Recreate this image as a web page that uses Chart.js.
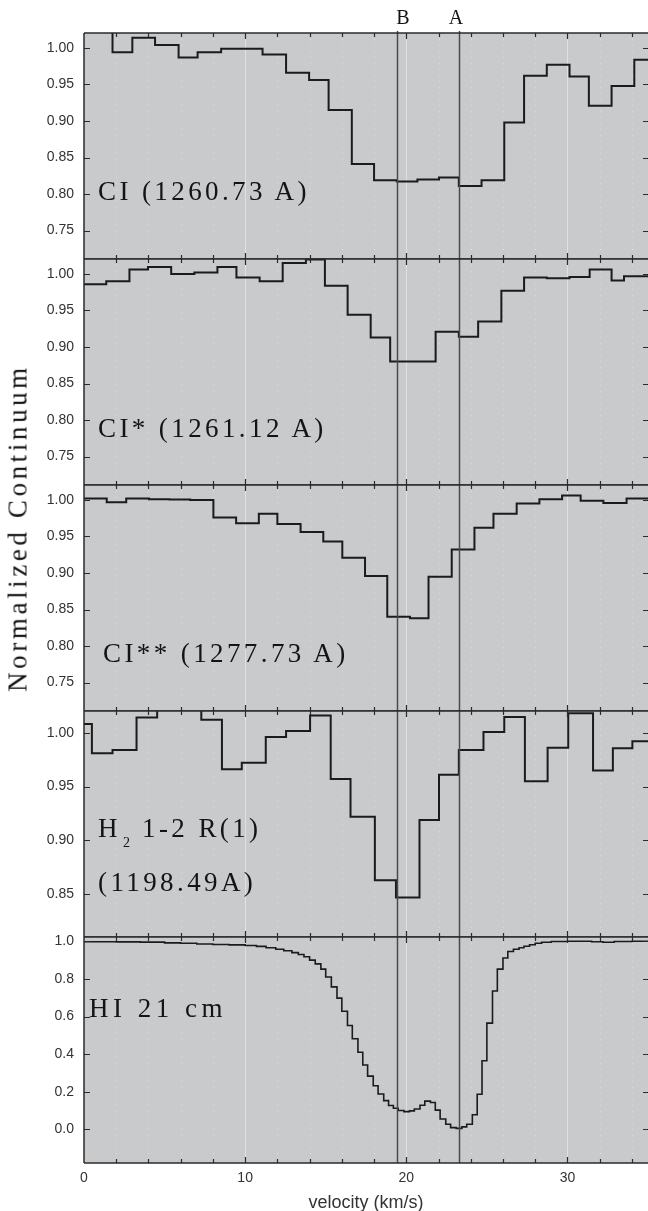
<!DOCTYPE html>
<html>
<head>
<meta charset="utf-8">
<title>Normalized continuum vs velocity</title>
<script src="https://cdn.jsdelivr.net/npm/chart.js@4.4.1/dist/chart.umd.min.js"></script>
<style>
body { margin: 0; background: #fff; }
#wrap { position: relative; width: 648px; height: 1211px; overflow: hidden; }
canvas { position: absolute; left: 0; }
.lbl { position: absolute; font-family: "Liberation Serif", serif; font-size: 27px; line-height: 27px; letter-spacing: 3.4px; color: #141414; white-space: nowrap; }
.sub { font-size: 14px; position: relative; top: 10px; margin-left: 2px; margin-right: 2px; letter-spacing: 0; }
.comp { position: absolute; font-family: "Liberation Serif", serif; font-size: 20px; line-height: 20px; color: #141414; transform: translateX(-50%); }
#ytitle { position: absolute; left: 17.6px; top: 528px; transform: translate(-50%, -50%) rotate(-90deg); font-family: "Liberation Serif", serif; font-size: 27px; line-height: 27px; letter-spacing: 3.6px; color: #141414; white-space: nowrap; }
</style>
</head>
<body>
<div id="wrap">
  <canvas id="p0" width="648" height="250" style="top:21px"></canvas>
  <canvas id="p1" width="648" height="250" style="top:247px"></canvas>
  <canvas id="p2" width="648" height="250" style="top:473px"></canvas>
  <canvas id="p3" width="648" height="250" style="top:699px"></canvas>
  <canvas id="p4" width="648" height="290" style="top:925px"></canvas>

  <div class="comp" style="left:402.8px; top:6.6px">B</div>
  <div class="comp" style="left:456px; top:6.6px">A</div>
  <div id="ytitle">Normalized Continuum</div>

  <div class="lbl" style="left:98px; top:178.4px">CI (1260.73 A)</div>
  <div class="lbl" style="left:98px; top:415.1px">CI* (1261.12 A)</div>
  <div class="lbl" style="left:103px; top:640.1px">CI** (1277.73 A)</div>
  <div class="lbl" style="left:98px; top:815.1px">H<span class="sub">2</span> 1-2 R(1)</div>
  <div class="lbl" style="left:98px; top:869.1px">(1198.49A)</div>
  <div class="lbl" style="left:89px; top:995.1px; letter-spacing:4.5px">HI 21 cm</div>
</div>

<script>
// velocity axis (km/s)
var velTicks = [0, 2, 4, 6, 8, 10, 12, 14, 16, 18, 20, 22, 24, 26, 28, 30, 32, 34];
var velMin = 0, velMax = 35;
// components B and A
var compVel = [19.45, 23.28];

// CI 1260.73 A  (left bin edges, flux)
var ciVel = [0, 1.77, 3.0, 4.41, 5.87, 7.05, 8.51, 11.08, 12.54, 13.97, 15.18, 16.62, 18.0, 19.41, 20.69, 22.03, 23.26, 24.67, 26.08, 27.31, 28.72, 30.13, 31.33, 32.74, 34.15];
var ciFlux = [1.03, 0.994, 1.014, 1.004, 0.987, 0.994, 0.999, 0.991, 0.966, 0.956, 0.915, 0.841, 0.819, 0.817, 0.820, 0.8225, 0.811, 0.819, 0.898, 0.962, 0.977, 0.961, 0.921, 0.948, 0.984];

// CI* 1261.12 A
var ci1Vel = [0, 1.38, 2.82, 3.97, 5.41, 6.85, 8.28, 9.46, 10.9, 12.33, 13.77, 14.95, 16.36, 17.79, 19.0, 20.44, 21.82, 23.26, 24.46, 25.9, 27.31, 28.72, 30.13, 31.38, 32.74, 33.51];
var ci1Flux = [0.986, 0.990, 1.006, 1.0096, 1.000, 1.002, 1.0096, 0.995, 0.990, 1.015, 1.0197, 0.984, 0.944, 0.913, 0.880, 0.880, 0.921, 0.914, 0.935, 0.977, 0.995, 0.994, 0.996, 1.006, 0.991, 0.997];

// CI** 1277.73 A
var ci2Vel = [0, 1.41, 2.62, 4.03, 5.31, 6.59, 8.03, 9.44, 10.85, 12.0, 13.44, 14.85, 16.03, 17.44, 18.82, 20.23, 21.38, 22.82, 24.23, 25.41, 26.85, 28.26, 29.67, 30.82, 32.23, 33.67];
var ci2Flux = [1.002, 0.997, 1.002, 1.001, 1.0005, 1.000, 0.976, 0.968, 0.981, 0.967, 0.956, 0.943, 0.921, 0.896, 0.840, 0.838, 0.895, 0.932, 0.962, 0.981, 0.995, 1.001, 1.006, 0.999, 0.996, 1.002];

// H2 1-2 R(1) 1198.49 A
var h2Vel = [0, 0.49, 1.77, 3.26, 4.54, 7.28, 8.56, 9.79, 11.28, 12.54, 14.03, 15.31, 16.54, 18.05, 19.36, 20.82, 22.03, 23.26, 24.79, 26.08, 27.36, 28.77, 30.05, 31.59, 32.82, 34.03];
var h2Flux = [1.008, 0.981, 0.984, 1.014, 1.03, 1.012, 0.966, 0.972, 0.996, 1.0015, 1.016, 0.957, 0.922, 0.863, 0.847, 0.919, 0.961, 0.984, 1.0006, 1.0145, 0.955, 0.986, 1.018, 0.965, 0.9855, 0.992];

// HI 21 cm
var hiVel = [0, 2.0, 3.5, 5.0, 6.0, 7.0, 8.0, 9.0, 10.0, 10.7, 11.3, 11.9, 12.4, 12.9, 13.3, 13.65, 14.0, 14.35, 14.7, 15.0, 15.35, 15.7, 16.0, 16.35, 16.65, 17.0, 17.3, 17.6, 17.95, 18.25, 18.6, 18.9, 19.2, 19.5, 19.85, 20.2, 20.5, 20.85, 21.15, 21.5, 21.8, 22.1, 22.45, 22.75, 23.1, 23.45, 23.75, 24.1, 24.4, 24.7, 25.0, 25.35, 25.65, 26.0, 26.3, 26.65, 27.0, 27.3, 27.65, 28.0, 28.4, 29.0, 30.0, 31.5, 32.2, 32.9, 34.0];
var hiFlux = [0.998, 0.997, 0.996, 0.992, 0.990, 0.986, 0.983, 0.981, 0.978, 0.973, 0.966, 0.958, 0.950, 0.940, 0.930, 0.918, 0.900, 0.880, 0.852, 0.810, 0.758, 0.698, 0.628, 0.552, 0.482, 0.410, 0.342, 0.283, 0.232, 0.188, 0.153, 0.127, 0.112, 0.100, 0.094, 0.098, 0.108, 0.128, 0.150, 0.143, 0.102, 0.055, 0.027, 0.009, 0.005, 0.013, 0.027, 0.078, 0.187, 0.365, 0.565, 0.736, 0.852, 0.911, 0.946, 0.958, 0.966, 0.974, 0.982, 0.990, 0.995, 0.999, 1.000, 0.998, 0.995, 0.999, 1.000];

// y axes
var ciTicks = [0.75, 0.80, 0.85, 0.90, 0.95, 1.00];
var h2Ticks = [0.85, 0.90, 0.95, 1.00];
var hiTicks = [0.0, 0.2, 0.4, 0.6, 0.8, 1.0];
var ciRange = [0.711, 1.0205];
var h2Range = [0.8104, 1.0201];
var hiRange = [-0.179, 1.023];

// step points: value holds from each left edge to the next
function steps(vel, flux) {
  var pts = vel.map(function (v, i) { return { x: v, y: flux[i] }; });
  pts.push({ x: velMax, y: flux[flux.length - 1] });
  return pts;
}

// grey panel, grid, frame, inner ticks and component lines
var frame = {
  id: 'frame',
  beforeDatasetsDraw: function (chart, args, opts) {
    var ctx = chart.ctx, a = chart.chartArea, x = chart.scales.x;
    ctx.save();
    ctx.fillStyle = '#c9cacc';
    ctx.fillRect(a.left, a.top, a.right - a.left, a.bottom - a.top);
    velTicks.forEach(function (v) {
      if (v === velMin) return;
      var px = Math.round(x.getPixelForValue(v)) + 0.5;
      ctx.beginPath();
      if (v % 10 === 0) {
        ctx.strokeStyle = '#e0e0e0';
        ctx.setLineDash([]);
      } else {
        ctx.strokeStyle = 'rgba(232,232,232,0.6)';
        ctx.setLineDash([1, 5]);
      }
      ctx.lineWidth = 1;
      ctx.moveTo(px, a.top);
      ctx.lineTo(px, a.bottom);
      ctx.stroke();
    });
    ctx.restore();
  },
  afterDatasetsDraw: function (chart, args, opts) {
    var ctx = chart.ctx, a = chart.chartArea, x = chart.scales.x, y = chart.scales.y;
    ctx.save();
    ctx.strokeStyle = '#4a4a4a';
    ctx.lineWidth = 1.5;
    compVel.forEach(function (v) {
      var px = Math.round(x.getPixelForValue(v)) + 0.5;
      ctx.beginPath();
      ctx.moveTo(px, a.top - (opts.first ? 2 : 0));
      ctx.lineTo(px, a.bottom);
      ctx.stroke();
    });
    ctx.strokeStyle = '#2b2b2b';
    ctx.lineWidth = 1.5;
    ctx.beginPath();
    ctx.moveTo(a.left, a.top); ctx.lineTo(a.right, a.top);
    ctx.moveTo(a.left, a.bottom); ctx.lineTo(a.right, a.bottom);
    ctx.moveTo(a.left, a.top); ctx.lineTo(a.left, a.bottom);
    ctx.stroke();
    ctx.lineWidth = 1.2;
    ctx.beginPath();
    velTicks.forEach(function (v) {
      if (v === velMin) return;
      var px = Math.round(x.getPixelForValue(v)) + 0.5;
      var len = v % 10 === 0 ? 6 : 4;
      ctx.moveTo(px, a.top); ctx.lineTo(px, a.top + len);
      ctx.moveTo(px, a.bottom); ctx.lineTo(px, a.bottom - len);
    });
    opts.yTicks.forEach(function (v) {
      var py = Math.round(y.getPixelForValue(v)) + 0.5;
      ctx.moveTo(a.left, py); ctx.lineTo(a.left + 6, py);
      ctx.moveTo(a.right - 5, py); ctx.lineTo(a.right, py);
    });
    ctx.stroke();
    ctx.restore();
  }
};

var tickFont = { family: 'Liberation Sans', size: 14 };

function panel(id, vel, flux, yRange, yTicks, digits, bottom) {
  return new Chart(document.getElementById(id), {
    type: 'line',
    data: {
      datasets: [{
        data: steps(vel, flux),
        stepped: true,
        borderColor: '#1b1b1b',
        borderWidth: bottom ? 1.6 : 2,
        pointRadius: 0,
        fill: false,
        clip: 0
      }]
    },
    options: {
      responsive: false,
      animation: false,
      events: [],
      layout: { padding: { top: 12, bottom: bottom ? 0 : 12, left: 0, right: 0 } },
      plugins: {
        legend: { display: false },
        tooltip: { enabled: false },
        frame: { yTicks: yTicks, first: id === 'p0' }
      },
      scales: {
        x: {
          type: 'linear',
          min: velMin,
          max: velMax,
          display: bottom,
          afterBuildTicks: function (s) { s.ticks = velTicks.map(function (v) { return { value: v }; }); },
          afterFit: function (s) {
            if (bottom) s.height = 52;
            s.paddingLeft = 0;
            s.paddingRight = 0;
          },
          grid: { display: false, drawTicks: false },
          border: { display: false },
          ticks: {
            autoSkip: false,
            maxRotation: 0,
            padding: 7,
            color: '#333',
            font: tickFont,
            callback: function (v) { return v % 10 === 0 ? String(v) : ''; }
          },
          title: {
            display: true,
            text: 'velocity (km/s)',
            color: '#333',
            font: { family: 'Liberation Sans', size: 18 },
            padding: { top: 0, bottom: 1 }
          }
        },
        y: {
          min: yRange[0],
          max: yRange[1],
          afterBuildTicks: function (s) { s.ticks = yTicks.map(function (v) { return { value: v }; }); },
          afterFit: function (s) {
            s.width = 84;
            s.paddingTop = 0;
            s.paddingBottom = 0;
          },
          grid: { display: false, drawTicks: false },
          border: { display: false },
          ticks: {
            padding: 10,
            color: '#333',
            font: tickFont,
            callback: function (v) { return Number(v).toFixed(digits); }
          }
        }
      }
    },
    plugins: [frame]
  });
}

panel('p0', ciVel, ciFlux, ciRange, ciTicks, 2, false);
panel('p1', ci1Vel, ci1Flux, ciRange, ciTicks, 2, false);
panel('p2', ci2Vel, ci2Flux, ciRange, ciTicks, 2, false);
panel('p3', h2Vel, h2Flux, h2Range, h2Ticks, 2, false);
panel('p4', hiVel, hiFlux, hiRange, hiTicks, 1, true);
</script>
</body>
</html>
